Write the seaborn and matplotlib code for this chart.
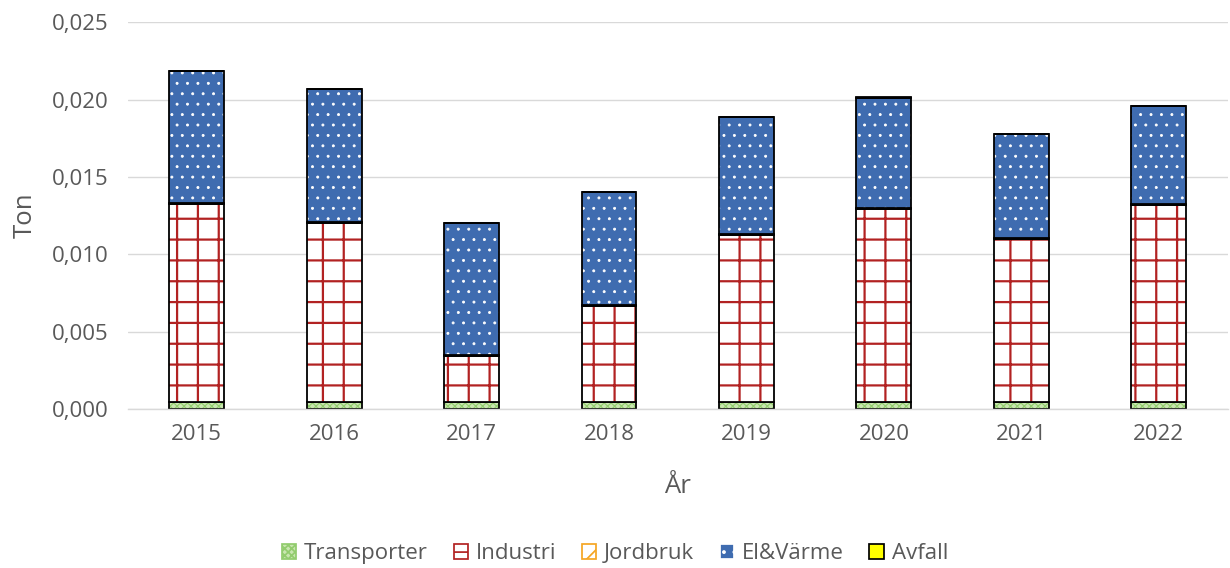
import matplotlib
matplotlib.use("Agg")
import matplotlib.pyplot as plt
import seaborn as sns
import pandas as pd
import numpy as np
from matplotlib.ticker import FuncFormatter, MultipleLocator
from matplotlib.patches import Patch

years = ["2015", "2016", "2017", "2018", "2019", "2020", "2021", "2022"]
transporter = [0.00045, 0.00045, 0.00045, 0.00045, 0.00045, 0.00045, 0.00043, 0.00043]
industri = [0.0128, 0.01157, 0.00297, 0.0062, 0.0108, 0.0125, 0.01055, 0.01275]
jordbruk = [0.00005, 0.00005, 0.00005, 0.00005, 0.00005, 0.00005, 0.00005, 0.00005]
el_varme = [0.00854, 0.0086, 0.00855, 0.00732, 0.00757, 0.00713, 0.00674, 0.00634]
avfall = [0.00002, 0.00002, 0.00002, 0.00002, 0.00002, 0.00002, 0.00002, 0.00002]

DPI = 125
P = 100 / DPI  # keep sizes in "pixels at 100 dpi"

sns.set_theme(style="white")
plt.rcParams['font.family'] = ['Open Sans', 'DejaVu Sans']

fig = plt.figure(figsize=(1230 / DPI, 568 / DPI), dpi=DPI)
ax = fig.add_axes([0.104, 0.28, 0.894, 0.681])

series = [
    ("Transporter", transporter, dict(color="#C9E6B0", edgecolor="#92CC6E", hatch="xxxxxx", hlw=0.8)),
    ("Industri", industri, dict(color="white", edgecolor="#B22222", hatch="+", hlw=1.6)),
    ("Jordbruk", jordbruk, dict(color="white", edgecolor="#F5A623", hatch="//", hlw=1.6)),
    ("El&Värme", el_varme, dict(color="#3F6CB0", edgecolor="white", hatch="..", hlw=0.6)),
    ("Avfall", avfall, dict(color="#FFFF00", edgecolor="black", hatch=None, hlw=1.0)),
]

bottom = np.zeros(len(years))
for name, vals, st in series:
    df = pd.DataFrame({"year": years, "val": vals})
    with plt.rc_context({"hatch.linewidth": st["hlw"] * P}):
        sns.barplot(data=df, x="year", y="val", ax=ax, bottom=bottom, width=0.4,
                    color=st["color"], edgecolor=st["edgecolor"], hatch=st["hatch"],
                    linewidth=0, saturation=1, errorbar=None)
    sns.barplot(data=df, x="year", y="val", ax=ax, bottom=bottom, width=0.4,
                color="black", fill=False, edgecolor="black", linewidth=1.3 * P, errorbar=None)
    bottom = bottom + np.array(vals)

ax.set_ylim(0, 0.025)
ax.yaxis.set_major_locator(MultipleLocator(0.005))
ax.yaxis.set_major_formatter(FuncFormatter(lambda v, p: f"{v:.3f}".replace(".", ",")))
ax.grid(axis="y", color="#D9D9D9", linewidth=1 * P)
ax.set_axisbelow(True)
for s in ["top", "right", "left"]:
    ax.spines[s].set_visible(False)
ax.spines["bottom"].set_color("#D9D9D9")
ax.spines["bottom"].set_linewidth(1 * P)
ax.tick_params(axis="both", colors="#595959", labelsize=16 * P, length=0)
ax.tick_params(axis="x", pad=11 * P)
ax.tick_params(axis="y", pad=14 * P)
ax.set_xlabel("År", fontsize=18.5 * P, color="#595959", labelpad=21 * P)
ax.set_ylabel("Ton", fontsize=18.5 * P, color="#595959", labelpad=10 * P)

handles = []
for name, vals, st in series:
    with plt.rc_context({"hatch.linewidth": st["hlw"] * P}):
        handles.append(Patch(facecolor=st["color"],
                             edgecolor=st["edgecolor"] if name != "Avfall" else "black",
                             hatch=st["hatch"], label=name))
leg = fig.legend(handles=handles, loc="center", bbox_to_anchor=(0.5, 0.025), ncol=5,
                 frameon=False, fontsize=16 * P, handlelength=0.65, handleheight=0.65,
                 handletextpad=0.35, columnspacing=1.15)
for t in leg.get_texts():
    t.set_color("#595959")

fig.savefig("out.png", dpi=DPI)
